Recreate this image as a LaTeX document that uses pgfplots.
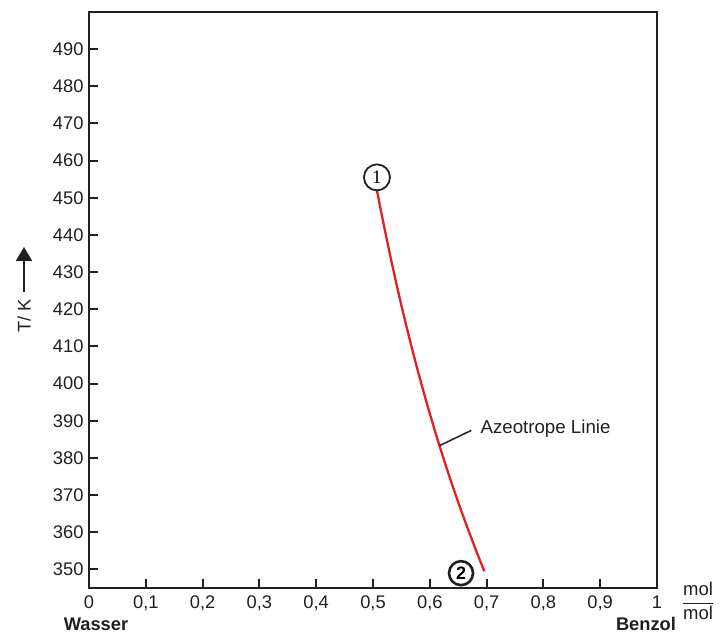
\documentclass[border=0pt]{standalone}
\usepackage{pgfplots}
\pgfplotsset{compat=1.18}
\usetikzlibrary{calc,arrows.meta}
\usepackage{fontspec}
\setmainfont{Liberation Sans}
\newfontfamily\seriffont{Liberation Serif}
\definecolor{curvered}{RGB}{224,32,38}
\definecolor{ink}{RGB}{35,31,32}
\begin{document}
\begin{tikzpicture}
\begin{axis}[
  scale only axis, width=568pt, height=576pt,
  xmin=0, xmax=1, ymin=345, ymax=500,
  clip=false,
  xtick={0,0.1,0.2,0.3,0.4,0.5,0.6,0.7,0.8,0.9,1},
  xticklabels={0,{0,1},{0,2},{0,3},{0,4},{0,5},{0,6},{0,7},{0,8},{0,9},1},
  ytick={350,360,370,380,390,400,410,420,430,440,450,460,470,480,490},
  yticklabels={350,360,370,380,390,400,410,420,430,440,450,460,470,480,490},
  xtick pos=bottom, ytick pos=left,
  tick align=inside,
  major tick length=9pt,
  tick style={line width=2pt, ink},
  axis line style={line width=1.2pt, ink},
  ticklabel style={font=\fontsize{18.3}{20}\selectfont, text=ink},
  xticklabel style={yshift=-4pt},
  yticklabel style={xshift=-2pt},
]
\addplot[curvered, line width=2.3pt, smooth] coordinates {
  (0.5067,452.2) (0.5160,445) (0.5295,435) (0.5440,425) (0.5595,415)
  (0.5762,405) (0.5942,395) (0.6136,385) (0.6345,375) (0.6572,365)
  (0.6817,355) (0.6960,349.5)};
\draw[line width=2pt, ink] (rel axis cs:0,1) -- (rel axis cs:0,0) -- (rel axis cs:1,0);
\node[circle, draw=ink, line width=1.8pt, minimum size=26pt, inner sep=0pt,
      font=\seriffont\fontsize{19}{19}\selectfont] at (axis cs:0.507,455.5) {1};
\node[circle, draw=ink, line width=2.6pt, minimum size=24pt, inner sep=0pt,
      font=\bfseries\fontsize{18}{18}\selectfont] at (axis cs:0.655,349.0) {2};
\draw[line width=1.5pt, ink] (axis cs:0.617,383.3) -- (axis cs:0.673,387.4);
\node[anchor=west, inner sep=0pt, font=\fontsize{18.7}{20}\selectfont, text=ink]
      at (axis cs:0.689,388.0) {Azeotrope Linie};
\coordinate (O) at (rel axis cs:0,0);
\coordinate (E) at (rel axis cs:1,0);
\end{axis}
\node[font=\bfseries\fontsize{18.3}{20}\selectfont, text=ink] at ($(O)+(7pt,-36.5pt)$) {Wasser};
\node[font=\bfseries\fontsize{18.3}{20}\selectfont, text=ink] at ($(E)+(-11pt,-36pt)$) {Benzol};
\node[font=\fontsize{18.5}{20}\selectfont, text=ink, inner sep=0pt] at ($(E)+(41pt,-13pt)$)
      {$\displaystyle\frac{\hbox{mol}}{\hbox{mol}}$};
\node[rotate=90, font=\fontsize{18.3}{20}\selectfont, text=ink] at ($(O)+(-65pt,272pt)$) {T/ K};
\draw[line width=2pt, ink, -{Triangle[length=14pt,width=16pt]}] ($(O)+(-65pt,296pt)$) -- ($(O)+(-65pt,341pt)$);
\pgfresetboundingbox
\path[use as bounding box] ($(O)+(-89pt,-47pt)$) rectangle ++(725pt,635pt);
\end{tikzpicture}
\end{document}
